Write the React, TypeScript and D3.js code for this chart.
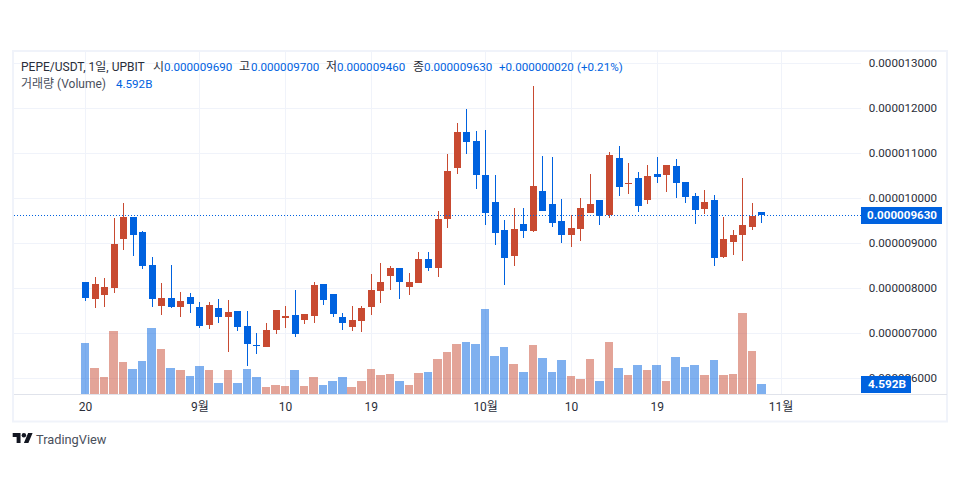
import * as d3 from "d3";

const WIDTH = 960;
const HEIGHT = 500;
const BLUE = "#0062DF";
const RED = "#C84A31";
const GRID = "#F0F3FA";
const FONT = "Roboto, 'Noto Sans CJK KR', sans-serif";

// prices are in units of 0.000001 USDT, one entry per day from Aug 20
const opens = [
  8.145, 7.767, 7.856, 8.011, 9.1, 9.589, 9.256, 8.522, 7.611, 7.789, 7.589, 7.811,
  7.589, 7.189, 7.567, 7.367, 7.5, 7.167, 6.745, 6.7, 7.078, 7.345, 7.411, 7.3,
  7.389, 8.1, 7.878, 7.367, 7.145, 7.278, 7.589, 7.945, 8.278, 8.456, 8.033, 8.122,
  8.656, 8.456, 9.544, 10.677, 11.477, 11.277, 10.522, 9.922, 9.3, 8.722, 9.433, 9.277,
  10.166, 9.877, 9.5, 9.189, 9.322, 9.677, 9.966, 9.633, 10.9, 10.322, 10.455, 9.966,
  10.544, 10.522, 10.722, 10.366, 10.055, 9.766, 9.966, 8.7, 9.033, 9.189, 9.366, 9.69,
];
const highs = [
  8.145, 8.256, 8.233, 9.567, 9.9, 9.589, 9.278, 8.7, 8.122, 8.522, 7.922, 7.9,
  7.7, 7.7, 7.767, 7.745, 7.5, 7.5, 7.011, 7.233, 7.522, 7.611, 7.967, 7.433,
  8.145, 8.1, 7.878, 7.456, 7.611, 7.611, 8.322, 8.567, 8.5, 8.456, 8.345, 8.811,
  8.811, 9.722, 10.989, 11.677, 11.989, 11.5, 11.522, 10.522, 9.522, 9.789, 9.789, 12.5,
  10.944, 10.922, 9.989, 9.633, 10.011, 10.544, 9.966, 11.033, 11.166, 10.789, 10.589, 10.744,
  10.922, 10.744, 10.878, 10.366, 10.122, 10.189, 10.078, 9.589, 9.3, 10.455, 9.9, 9.7,
];
const lows = [
  7.722, 7.567, 7.589, 7.9, 8.856, 8.722, 8.433, 7.589, 7.411, 7.567, 7.367, 7.456,
  7.122, 7.1, 7.233, 6.589, 7.056, 6.278, 6.545, 6.7, 6.989, 7.122, 6.922, 7.211,
  7.233, 7.633, 7.367, 7.078, 7.056, 7.033, 7.411, 7.678, 7.967, 7.767, 7.856, 8.122,
  8.389, 8.256, 9.344, 10.544, 10.989, 10.211, 9.411, 8.966, 8.077, 8.5, 9.122, 9.255,
  9.722, 9.366, 9.011, 8.922, 9.055, 9.677, 9.411, 9.566, 10.055, 10.1, 9.7, 9.877,
  10.344, 10.144, 10.011, 9.9, 9.433, 9.655, 8.5, 8.678, 8.744, 8.611, 9.3, 9.46,
];
const closes = [
  7.789, 8.1, 8.033, 8.989, 9.589, 9.189, 8.5, 7.767, 7.789, 7.589, 7.722, 7.656,
  7.167, 7.633, 7.367, 7.478, 7.145, 6.767, 6.722, 7.078, 7.522, 7.389, 6.989, 7.433,
  8.078, 7.745, 7.433, 7.233, 7.3, 7.567, 7.967, 8.145, 8.456, 8.145, 8.145, 8.656,
  8.456, 9.545, 10.611, 11.477, 11.255, 10.522, 9.677, 9.233, 8.677, 9.322, 9.277, 10.277,
  9.722, 9.455, 9.189, 9.344, 9.789, 9.877, 9.611, 10.966, 10.255, 10.344, 9.833, 10.5,
  10.477, 10.744, 10.344, 10.033, 9.744, 9.922, 8.678, 9.1, 9.189, 9.411, 9.611, 9.63,
];
// volume in billions
const volumes = [
  23.4, 11.9, 7.8, 28.9, 14.7, 11.5, 15.2, 30.3, 20.7, 11.9, 11.0, 8.3,
  12.9, 11.0, 5.05, 11.0, 5.05, 11.5, 7.8, 3.2, 4.1, 3.7, 11.0, 3.7,
  7.8, 4.1, 6.0, 7.8, 3.2, 6.0, 11.5, 8.7, 9.2, 6.0, 4.1, 9.6,
  10.1, 16.1, 19.3, 23.0, 23.9, 23.0, 39.0, 17.4, 21.6, 13.8, 10.1, 22.5,
  16.5, 10.1, 15.6, 8.3, 6.9, 16.1, 6.0, 23.9, 11.9, 8.7, 13.3, 11.0,
  13.3, 6.0, 17.0, 12.4, 13.3, 8.7, 15.6, 8.7, 9.2, 37.2, 19.7, 4.592,
];

const priceTicks = [6, 7, 8, 9, 10, 11, 12, 13];
const timeTicks = [0, 12, 21, 30, 42, 51, 60, 73];
const timeLabels = ["20", "9월", "10", "19", "10월", "10", "19", "11월"];

const LAST_PRICE = 9.63;
const LAST_VOLUME = 4.592;

const PLOT = { left: 14, right: 861, top: 52, bottom: 394 };

const formatPrice = (p: number) => (p / 1e6).toFixed(9);

export default function App() {
  const xScale = d3.scaleLinear().domain([0, 73]).range([85.5, 781]);
  const yScale = d3.scaleLinear().domain([6, 13]).range([378.5, 63.5]);
  const volScale = d3.scaleLinear().domain([0, 39]).range([394, 309]);

  const snapX = (i: number) => Math.floor(xScale(i)) + 0.5;

  const volumeBars = volumes.map((v, i) => {
    const up = closes[i] >= opens[i];
    const left = Math.round(xScale(i) - 4.77);
    const right = Math.round(xScale(i) + 4.77) - 1;
    const top = Math.round(volScale(v));
    return (
      <rect
        key={i}
        x={left}
        y={top}
        width={right - left}
        height={394 - top}
        fill={up ? RED : BLUE}
        fillOpacity={0.5}
      />
    );
  });

  const candles = opens.map((o, i) => {
    const c = closes[i];
    const up = c >= o;
    const color = up ? RED : BLUE;
    const cx = snapX(i);
    const top = Math.round(yScale(Math.max(o, c)));
    const bottom = Math.round(yScale(Math.min(o, c)));
    const wickTop = Math.round(yScale(highs[i]));
    const wickBottom = Math.round(yScale(lows[i]));
    return (
      <g key={i} fill={color}>
        <rect x={cx - 0.5} y={wickTop} width={1} height={wickBottom - wickTop} />
        <rect x={cx - 3.5} y={top} width={7} height={Math.max(bottom - top, 1)} />
      </g>
    );
  });

  const lastY = Math.round(yScale(LAST_PRICE)) + 0.5;

  return (
    <svg
      width={WIDTH}
      height={HEIGHT}
      style={{ position: "absolute", left: 0, top: 0, display: "block" }}
      fontFamily={FONT}
    >
      <rect x={0} y={0} width={WIDTH} height={HEIGHT} fill="#fff" />
      {/* frame */}
      <rect x={13} y={51} width={934} height={370.5} fill="none" stroke="#F0F3FA" strokeWidth={2} />

      {/* grid */}
      {priceTicks.map((t) => (
        <line
          key={t}
          x1={PLOT.left}
          x2={PLOT.right}
          y1={yScale(t)}
          y2={yScale(t)}
          stroke={GRID}
        />
      ))}
      {timeTicks.map((t) => (
        <line
          key={t}
          x1={snapX(t)}
          x2={snapX(t)}
          y1={PLOT.top}
          y2={PLOT.bottom}
          stroke={GRID}
        />
      ))}

      {volumeBars}
      {candles}

      {/* last price line */}
      <line
        x1={PLOT.left}
        x2={PLOT.right}
        y1={lastY}
        y2={lastY}
        stroke={BLUE}
        strokeDasharray="1 2"
      />

      {/* time axis */}
      <line x1={PLOT.left} x2={947} y1={394.5} y2={394.5} stroke="#E0E3EB" />
      {timeTicks.map((t, i) => (
        <text
          key={t}
          x={xScale(t)}
          y={406.5}
          textAnchor="middle"
          dominantBaseline="central"
          fontSize={12}
          fill="#2a2e39"
        >
          {timeLabels[i]}
        </text>
      ))}

      {/* price axis */}
      {priceTicks.map((t) => (
        <text
          key={t}
          x={937}
          y={yScale(t) - 0.5}
          textAnchor="end"
          dominantBaseline="central"
          fontSize={11.6}
          fill="#2a2e39"
        >
          {formatPrice(t)}
        </text>
      ))}
      <rect x={861} y={207} width={81} height={17} fill={BLUE} />
      <text
        x={937}
        y={215}
        textAnchor="end"
        dominantBaseline="central"
        fontSize={11.6}
        fontWeight={700}
        fill="#fff"
      >
        {formatPrice(LAST_PRICE)}
      </text>
      <rect x={861} y={376} width={50} height={17} fill={BLUE} />
      <text
        x={887}
        y={384}
        textAnchor="middle"
        dominantBaseline="central"
        fontSize={11.8}
        fontWeight={700}
        fill="#fff"
      >
        {LAST_VOLUME}B
      </text>

      {/* legend */}
      <g fontSize={12} dominantBaseline="central" fill="#2a2e39">
        <text x={21} y={66.5}>PEPE/USDT, 1일, UPBIT</text>
        <text x={153} y={66.5}>시</text>
        <text x={164} y={66.5} fill={BLUE} fontSize={11.6}>0.000009690</text>
        <text x={239} y={66.5}>고</text>
        <text x={251} y={66.5} fill={BLUE} fontSize={11.6}>0.000009700</text>
        <text x={326} y={66.5}>저</text>
        <text x={337} y={66.5} fill={BLUE} fontSize={11.6}>0.000009460</text>
        <text x={413} y={66.5}>종</text>
        <text x={424} y={66.5} fill={BLUE} fontSize={11.6}>0.000009630</text>
        <text x={499} y={66.5} fill={BLUE} fontSize={11.6}>+0.000000020</text>
        <text x={577} y={66.5} fill={BLUE} fontSize={11.6}>(+0.21%)</text>
        <text x={21} y={83.5} fill="#4a4f5c">거래량 (Volume)</text>
        <text x={116} y={83.5} fill={BLUE} fontSize={11.6}>{LAST_VOLUME}B</text>
      </g>

      {/* logo */}
      <g transform="translate(12.7,430.8) scale(0.56)" fill="#131722">
        <path d="M14 22H7V11H0V4h14v18zM28 22h-8l7.5-18h8L28 22z" />
        <circle cx={20} cy={8} r={4} />
      </g>
      <text x={36} y={439} fontSize={12.8} dominantBaseline="central" fill="#4a4f5c">
        TradingView
      </text>
    </svg>
  );
}
